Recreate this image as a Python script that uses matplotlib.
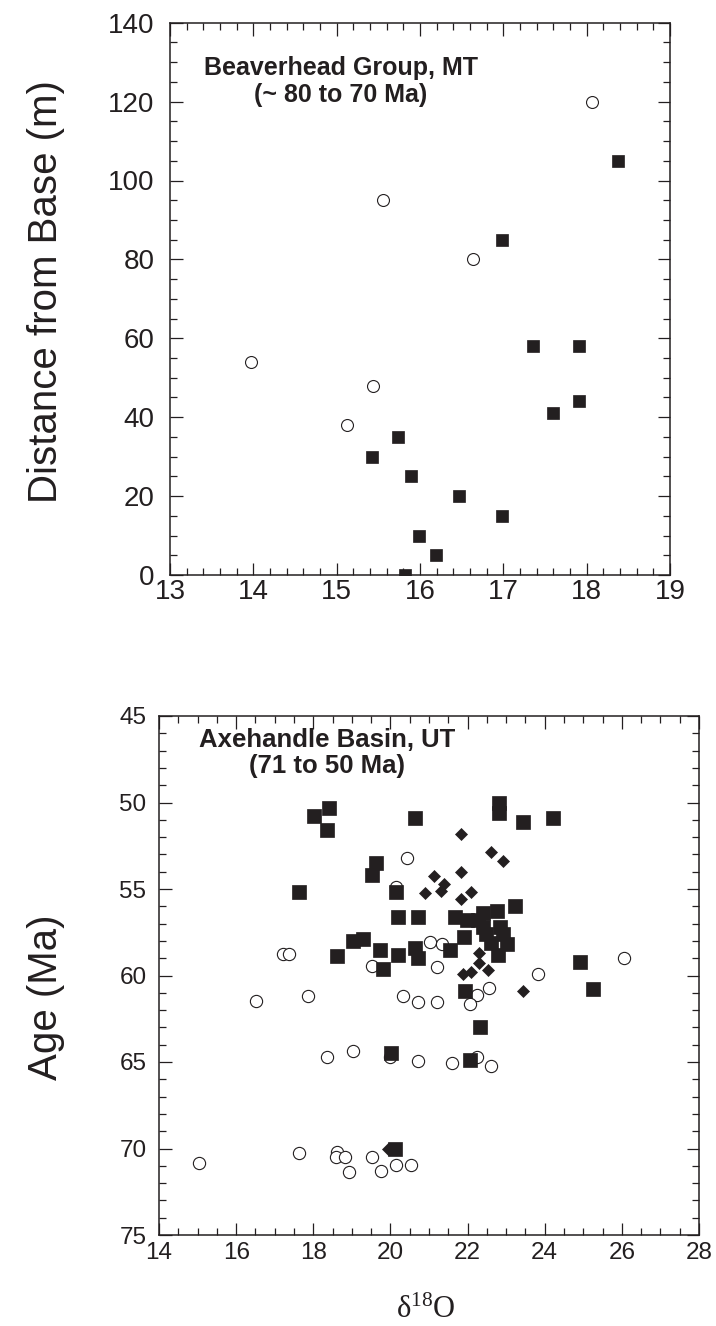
import matplotlib
matplotlib.use('Agg')
import matplotlib.pyplot as plt
from matplotlib import font_manager
from matplotlib.ticker import MultipleLocator

# ---------------- Beaverhead Group, MT ----------------
bh_sq_x = [15.42, 15.74, 15.89, 15.99, 16.19, 15.82, 16.47, 16.99, 16.99, 17.35, 17.91, 17.91, 17.59, 18.38]
bh_sq_y = [30, 35, 25, 10, 5, 0, 20, 15, 85, 58, 58, 44, 41, 105]
bh_ci_x = [13.97, 15.43, 15.12, 18.06, 16.63, 15.56]
bh_ci_y = [54, 48, 38, 120, 80, 95]

# ---------------- Axehandle Basin, UT ----------------
ax_sq_x = [18.42, 18.03, 18.35, 20.64, 22.82, 22.82, 23.45, 24.22, 19.63, 19.51,
           17.64, 20.14, 20.20, 20.71, 21.67, 21.98, 22.28, 22.41, 22.76, 23.23,
           22.41, 22.84, 22.93, 22.49, 23.01, 22.62, 22.80, 21.91, 21.54, 19.04,
           19.30, 19.73, 18.62, 20.20, 20.64, 20.72, 19.82, 24.92, 21.93, 25.24,
           22.32, 20.01, 22.05, 20.12]
ax_sq_y = [50.3, 50.8, 51.6, 50.9, 50.0, 50.6, 51.1, 50.9, 53.5, 54.2,
           55.2, 55.2, 56.6, 56.6, 56.6, 56.8, 56.8, 56.4, 56.3, 56.0,
           57.2, 57.2, 57.6, 57.6, 58.2, 58.1, 58.8, 57.8, 58.5, 58.0,
           57.9, 58.5, 58.9, 58.8, 58.4, 59.0, 59.6, 59.2, 60.9, 60.8,
           63.0, 64.5, 64.9, 70.05]
ax_di_x = [21.84, 22.60, 22.92, 21.84, 21.12, 21.40, 21.30, 20.90, 22.10, 21.84,
           22.29, 22.30, 22.54, 22.10, 21.89, 23.43, 19.95]
ax_di_y = [51.8, 52.85, 53.4, 54.0, 54.25, 54.7, 55.1, 55.25, 55.2, 55.6,
           58.7, 59.25, 59.7, 59.8, 59.9, 60.9, 70.0]
ax_ci_x = [20.44, 20.14, 17.21, 17.38, 19.51, 21.03, 21.33, 21.22, 23.83, 26.05,
           16.52, 17.85, 20.32, 20.71, 21.22, 22.24, 22.55, 22.05, 18.35, 19.04,
           20.00, 20.72, 21.60, 22.25, 22.62, 15.04, 17.64, 18.62, 18.60, 18.82,
           18.93, 19.51, 19.75, 20.14, 20.53]
ax_ci_y = [53.2, 54.9, 58.75, 58.75, 59.45, 58.05, 58.2, 59.5, 59.9, 59.0,
           61.5, 61.2, 61.2, 61.55, 61.55, 61.1, 60.75, 61.65, 64.7, 64.35,
           64.7, 64.95, 65.05, 64.7, 65.25, 70.86, 70.28, 70.2, 70.47, 70.47,
           71.38, 70.47, 71.28, 70.95, 70.95]

ink = '#231f20'
installed = {f.name for f in font_manager.fontManager.ttflist}
narrow = 'Liberation Sans Narrow' if 'Liberation Sans Narrow' in installed else 'Liberation Sans'

plt.rcParams['font.family'] = ['Liberation Sans', 'DejaVu Sans']
plt.rcParams['mathtext.fontset'] = 'custom'
plt.rcParams['mathtext.rm'] = 'Liberation Serif'
plt.rcParams['mathtext.it'] = 'Liberation Serif:italic'

W, H = 716, 1326
fig = plt.figure(figsize=(W / 100, H / 100), dpi=100)


def box(l, t, r, b):
    return [l / W, 1 - b / H, (r - l) / W, (b - t) / H]


def style(ax, size, fam, pad_x, pad_y):
    for s in ax.spines.values():
        s.set_linewidth(1.1)
        s.set_color(ink)
    ax.tick_params(which='both', direction='in', top=True, right=True, color=ink, width=0.9)
    ax.tick_params(which='major', length=9)
    ax.tick_params(which='minor', length=5)
    ax.tick_params(axis='x', pad=pad_x)
    ax.tick_params(axis='y', pad=pad_y)
    for lab in ax.get_xticklabels() + ax.get_yticklabels():
        lab.set_fontfamily(fam)
        lab.set_fontsize(size)
        lab.set_color(ink)


# ---------- top panel ----------
ax1 = fig.add_axes(box(170, 22.7, 670, 575))
ax1.plot(bh_ci_x, bh_ci_y, 'o', ms=8.6, mfc='white', mec=ink, mew=0.8, ls='none')
ax1.plot(bh_sq_x, bh_sq_y, 's', ms=9.3, mfc=ink, mec=ink, mew=0.5, ls='none')
ax1.set_xlim(13, 19)
ax1.set_ylim(0, 140)
ax1.xaxis.set_major_locator(MultipleLocator(1))
ax1.xaxis.set_minor_locator(MultipleLocator(0.2))
ax1.yaxis.set_major_locator(MultipleLocator(20))
ax1.yaxis.set_minor_locator(MultipleLocator(5))
style(ax1, 20, narrow, 3, 11)
ax1.text(0.342, 0.905, 'Beaverhead Group, MT', transform=ax1.transAxes, ha='center',
         va='baseline', fontsize=18, fontweight='bold', color=ink)
ax1.text(0.342, 0.856, '(~ 80 to 70 Ma)', transform=ax1.transAxes, ha='center',
         va='baseline', fontsize=18, fontweight='bold', color=ink)

# ---------- bottom panel ----------
ax2 = fig.add_axes(box(159, 716, 699, 1235))
ax2.plot(ax_ci_x, ax_ci_y, 'o', ms=8.8, mfc='white', mec=ink, mew=0.8, ls='none')
ax2.plot(ax_sq_x, ax_sq_y, 's', ms=9.4, mfc=ink, mec=ink, mew=0.5, ls='none')
ax2.plot(ax_di_x, ax_di_y, 'D', ms=6.3, mfc=ink, mec=ink, mew=0.5, ls='none')
ax2.set_xlim(14, 28)
ax2.set_ylim(75, 45)
ax2.xaxis.set_major_locator(MultipleLocator(2))
ax2.xaxis.set_minor_locator(MultipleLocator(0.5))
ax2.yaxis.set_major_locator(MultipleLocator(5))
ax2.yaxis.set_minor_locator(MultipleLocator(1))
style(ax2, 17.5, 'Liberation Sans', 5, 9)
ax2.text(0.311, 0.940, 'Axehandle Basin, UT', transform=ax2.transAxes, ha='center',
         va='baseline', fontsize=18.5, fontweight='bold', color=ink)
ax2.text(0.311, 0.890, '(71 to 50 Ma)', transform=ax2.transAxes, ha='center',
         va='baseline', fontsize=18.5, fontweight='bold', color=ink)

# ---------- axis titles ----------
fig.text(46 / W, 1 - 292 / H, 'Distance from Base (m)', rotation=90, ha='center',
         va='center', fontsize=29, color=ink)
fig.text(46 / W, 1 - 997 / H, 'Age (Ma)', rotation=90, ha='center',
         va='center', fontsize=29, color=ink)
fig.text(426 / W, 1 - 1318 / H, 'δ$^{18}$O', ha='center', va='baseline',
         fontsize=22, color=ink, family='Liberation Serif')

fig.savefig('out.png', dpi=100)
